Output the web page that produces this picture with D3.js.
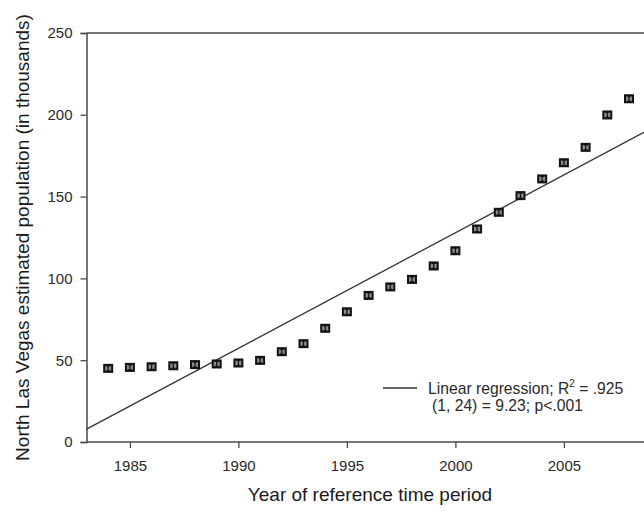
<!DOCTYPE html>
<html>
<head>
<meta charset="utf-8">
<script src="https://cdn.jsdelivr.net/npm/d3@7"></script>
<style>
  html, body { margin: 0; padding: 0; background: #fff; }
  svg { display: block; font-family: "Liberation Sans", Arial, sans-serif; }
</style>
</head>
<body>
<svg id="chart" width="644" height="512"></svg>
<script>
const years = [1984,1985,1986,1987,1988,1989,1990,1991,1992,1993,1994,1995,1996,1997,1998,1999,2000,2001,2002,2003,2004,2005,2006,2007,2008];
const population = [45.0,45.6,46.0,46.6,47.3,47.7,48.3,49.9,55.2,60.1,69.5,79.6,89.6,94.8,99.4,107.6,116.9,130.2,140.4,150.6,160.8,170.7,180.1,199.9,209.8];
const xTicks = [1985,1990,1995,2000,2005];
const yTicks = [0,50,100,150,200,250];
const xTitle = "Year of reference time period";
const yTitle = "North Las Vegas estimated population (in thousands)";
const legendLines = ["Linear regression; R\u00B2 = .925", "(1, 24) = 9.23; p<.001"];

const svg = d3.select("#chart");
const axisColor = "#4a4a4a";
const x = d3.scaleLinear().domain([1983, 2010]).range([86.5, 672.4]);
const y = d3.scaleLinear().domain([0, 250]).range([442, 33]);

// Linear regression (OLS) from data
const mx = d3.mean(years), my = d3.mean(population);
let sxy = 0, sxx = 0;
years.forEach((yr, i) => { sxy += (yr - mx) * (population[i] - my); sxx += (yr - mx) * (yr - mx); });
const slope = sxy / sxx, intercept = my - slope * mx;

// frame top line
svg.append("line").attr("x1", x(1983)).attr("x2", 644).attr("y1", y(250)).attr("y2", y(250))
  .attr("stroke", axisColor).attr("stroke-width", 1.5);

// Axes
const xAxis = d3.axisBottom(x).tickValues(xTicks).tickFormat(d3.format("d")).tickSizeOuter(0).tickSize(6).tickPadding(12);
const gx = svg.append("g").attr("transform", `translate(0,${y(0)})`).call(xAxis);
gx.select(".domain").attr("d", `M${x(1983)},0H644`).attr("stroke", axisColor).attr("stroke-width", 1.5);
gx.selectAll(".tick line").attr("stroke", axisColor).attr("stroke-width", 1.3);
gx.selectAll(".tick text").attr("font-size", 15).attr("fill", "#2a2a2a").attr("font-family", "Liberation Sans, Arial, sans-serif");

const yAxis = d3.axisLeft(y).tickValues(yTicks).tickSizeOuter(0).tickSize(6).tickPadding(8);
const gy = svg.append("g").attr("transform", `translate(${x(1983)},0)`).call(yAxis);
gy.select(".domain").attr("stroke", axisColor).attr("stroke-width", 1.5);
gy.selectAll(".tick line").attr("stroke", axisColor).attr("stroke-width", 1.3);
gy.selectAll(".tick text").attr("font-size", 15).attr("fill", "#2a2a2a").attr("font-family", "Liberation Sans, Arial, sans-serif");

// Regression line
svg.append("clipPath").attr("id", "plotclip").append("rect")
  .attr("x", x(1983)).attr("y", y(250)).attr("width", 644 - x(1983)).attr("height", y(0) - y(250));
svg.append("line")
  .attr("clip-path", "url(#plotclip)")
  .attr("x1", x(1983)).attr("y1", y(intercept + slope * 1983))
  .attr("x2", x(2010)).attr("y2", y(intercept + slope * 2010))
  .attr("stroke", "#333").attr("stroke-width", 1.3);

// Markers
const pts = svg.append("g").selectAll("g").data(years.map((yr, i) => ({yr, v: population[i]})))
  .join("g").attr("transform", d => `translate(${x(d.yr)},${y(d.v)})`);
pts.append("rect").attr("x", -5).attr("y", -4.5).attr("width", 10).attr("height", 9).attr("fill", "#111");
pts.append("rect").attr("x", -3).attr("y", -2.5).attr("width", 6).attr("height", 5).attr("fill", "#8a8a8a");
pts.append("path").attr("d", "M-2,-2.5H2M0,-2.5V2.5M-2,2.5H2").attr("stroke", "#111").attr("stroke-width", 1.2).attr("fill", "none");

// Legend
svg.append("line").attr("x1", 383).attr("x2", 417).attr("y1", 388).attr("y2", 388).attr("stroke", "#333").attr("stroke-width", 1.3);
const lt = svg.append("text").attr("font-size", 15.7).attr("fill", "#2a2a2a");
lt.append("tspan").attr("x", 428).attr("y", 394).text("Linear regression; R");
lt.append("tspan").attr("font-size", 10).attr("dy", -7).text("2");
lt.append("tspan").attr("dy", 7).text(" = .925");
svg.append("text").attr("x", 432).attr("y", 411).attr("font-size", 15.7).attr("fill", "#2a2a2a").text(legendLines[1]);

// Titles
svg.append("text").attr("x", 370).attr("y", 501).attr("text-anchor", "middle")
  .attr("font-size", 19).attr("fill", "#1a1a1a").text(xTitle);
svg.append("text").attr("transform", `translate(29,237.5) rotate(-90)`).attr("text-anchor", "middle")
  .attr("font-size", 19).attr("fill", "#1a1a1a").text(yTitle);
</script>
</body>
</html>
